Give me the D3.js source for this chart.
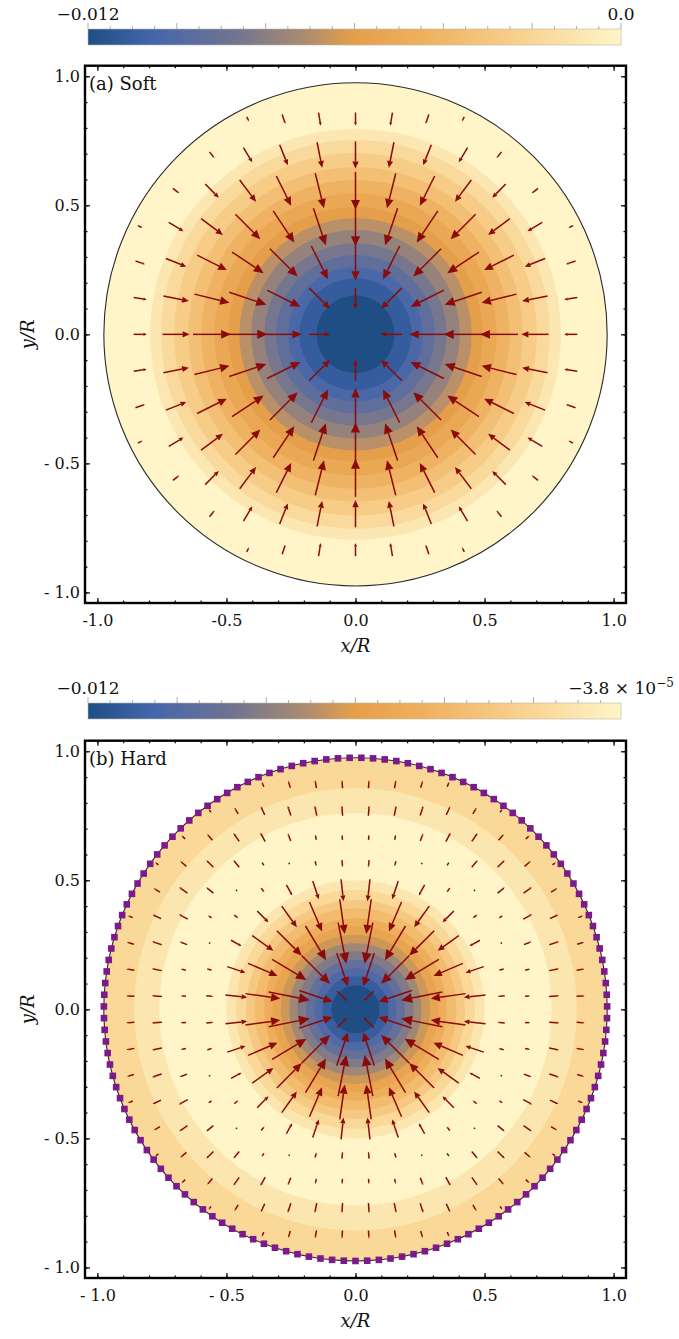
<!DOCTYPE html>
<html>
<head>
<style>
    body { margin: 0; background: #fff; }
    text { font-family: "DejaVu Serif", "Liberation Serif", "Times New Roman", serif; fill: #111; }
    .axis text { font-family: "DejaVu Serif", "Liberation Serif", "Times New Roman", serif; font-size: 16px; fill: #111; }
    .axis line { stroke: #000; stroke-width: 1.2; }
    .ax-label { font-size: 18px; font-style: italic; text-anchor: middle; }
    .panel-title { font-size: 18px; }
    .cbar-label { font-size: 17px; text-anchor: middle; }
</style>
<script src="https://cdn.jsdelivr.net/npm/d3@7"></script>
</head>
<body>
<div id="canvas"></div>
<script>

// colour bar ends
var cbarA = [-0.012, 0.0];
var cbarB = [-0.012, -0.000038];

// colour map (fraction of colour bar -> colour)
var cmapStops  = [0, 0.12, 0.27, 0.40, 0.50, 0.62, 0.80, 1];
var cmapColors = ["#1f4e85", "#4466ab", "#6f7392", "#a88a72", "#e59f4a", "#eeae5c", "#f8cf8a", "#fff5c8"];

// filled contour bands, centre outwards: outer radius (in R) and band value
var bandRadiiA  = [0.151, 0.217, 0.260, 0.307, 0.353, 0.404, 0.450, 0.493, 0.547, 0.598, 0.648, 0.703, 0.753, 0.796, 0.975];
var bandValuesA = [-0.01200, -0.01114, -0.01029, -0.00943, -0.00857, -0.00771, -0.00686, -0.00600,
                   -0.00514, -0.00429, -0.00343, -0.00257, -0.00171, -0.00086, 0.0];

var bandRadiiB  = [0.093, 0.128, 0.159, 0.192, 0.225, 0.256, 0.289, 0.322, 0.353, 0.391, 0.424, 0.463, 0.500, 0.760, 0.857, 0.975];
var bandValuesB = [-0.01200, -0.01108, -0.01016, -0.00924, -0.00832, -0.00740, -0.00648, -0.00556,
                   -0.00464, -0.00372, -0.00280, -0.00188, -0.00096, -0.000038, -0.00096, -0.00188];

// vector field, one quadrant: row j, column i; + points to the centre, - points out
var gridStepA = 0.139, gridOffsetA = 0;
var arrowMagA = [
    [0.00, 0.53, 0.90, 0.98, 0.95, 0.68, 0.33],
    [0.53, 0.73, 0.93, 0.98, 0.90, 0.65, 0.33],
    [0.90, 0.93, 0.98, 0.95, 0.83, 0.55, 0.25],
    [0.98, 0.98, 0.95, 0.88, 0.68, 0.43, 0.13],
    [0.95, 0.90, 0.83, 0.68, 0.48, 0.20],
    [0.68, 0.65, 0.55, 0.43, 0.20],
    [0.33, 0.33, 0.25, 0.13]
];

var gridStepB = 0.1026, gridOffsetB = 0.5;
var arrowMagB = [
    [0.35, 0.88, 1.05, 0.88, 0.55, 0.18, -0.13, -0.25, -0.20],
    [0.88, 1.00, 1.00, 0.80, 0.48, 0.13, -0.13, -0.25, -0.20],
    [1.05, 1.00, 0.88, 0.65, 0.30, 0.05, -0.20, -0.25, -0.18],
    [0.88, 0.80, 0.65, 0.40, 0.13, -0.10, -0.25, -0.23, -0.13],
    [0.55, 0.48, 0.30, 0.13, -0.05, -0.23, -0.25, -0.18],
    [0.18, 0.13, 0.05, -0.10, -0.23, -0.25, -0.20, -0.10],
    [-0.13, -0.13, -0.20, -0.25, -0.25, -0.20, -0.13],
    [-0.25, -0.25, -0.25, -0.23, -0.18, -0.10],
    [-0.20, -0.20, -0.18, -0.13]
];

var discRadius = 0.975;
var boundaryCount = 135;

var majorTicks = [-1.0, -0.5, 0.0, 0.5, 1.0];
var xTickLabelsA = ["-1.0", "-0.5", "0.0", "0.5", "1.0"];
var yTickLabelsA = ["- 1.0", "- 0.5", "0.0", "0.5", "1.0"];
var xTickLabelsB = ["- 1.0", "- 0.5", "0.0", "0.5", "1.0"];
var yTickLabelsB = ["- 1.0", "- 0.5", "0.0", "0.5", "1.0"];


var W = 679, H = 1339;
var frameL = 85, frameR = 626;
var arrowColor = "#8b0a0a";

var svg = d3.select("#canvas").append("svg")
            .attr("width", W).attr("height", H);
var defs = svg.append("defs");

var x = d3.scaleLinear().domain([-1.048, 1.048]).range([frameL, frameR]);
var lenScale = d3.scaleLinear().domain([0, 1]).range([0, 40]);


function colourScale(ends) {
    var lo = ends[0], hi = ends[1];
    return d3.scaleLinear()
             .domain(cmapStops.map(function(t) { return lo + t * (hi - lo); }))
             .range(cmapColors)
             .interpolate(d3.interpolateRgb);
}


function drawColourBar(id, ends, top, leftLabel, rightIsExp) {
    var col = colourScale(ends);
    var cb = d3.scaleLinear().domain(ends).range([88, 621]);

    var grad = defs.append("linearGradient").attr("id", id)
                   .attr("x1", "0%").attr("x2", "100%").attr("y1", "0%").attr("y2", "0%");
    d3.range(0, 41).forEach(function(k) {
        var t = k / 40;
        grad.append("stop").attr("offset", (t * 100) + "%")
            .attr("stop-color", col(ends[0] + t * (ends[1] - ends[0])));
    });

    var g = svg.append("g");
    g.append("rect").attr("x", cb.range()[0]).attr("y", top)
     .attr("width", cb.range()[1] - cb.range()[0]).attr("height", 16)
     .attr("fill", "url(#" + id + ")")
     .attr("stroke", "#b8b8a8").attr("stroke-width", 0.6);

    // small ticks above the bar
    cb.ticks(24).forEach(function(v) {
        var major = Math.abs(Math.round(v / 0.002) * 0.002 - v) < 1e-9;
        g.append("line").attr("x1", cb(v)).attr("x2", cb(v))
         .attr("y1", top).attr("y2", top - (major ? 6 : 3))
         .attr("stroke", "#999").attr("stroke-width", 0.8);
    });

    g.append("text").attr("class", "cbar-label")
     .attr("x", cb.range()[0]).attr("y", top - 9).text(leftLabel);

    var rt = g.append("text").attr("class", "cbar-label")
              .attr("x", cb.range()[1]).attr("y", top - 9);
    if (rightIsExp) {
        rt.append("tspan").text("\u22123.8 \u00d7 10");
        rt.append("tspan").attr("dy", -7).attr("font-size", "12px").text("\u22125");
    } else {
        rt.text("0.0");
    }
}


function drawPanel(opt) {
    var y = d3.scaleLinear().domain([-1.041, 1.041]).range([opt.bottom, opt.top]);
    var col = colourScale(opt.cbar);
    var g = svg.append("g");
    var cx = x(0), cy = y(0);

    // filled contour bands, outermost first
    var bands = opt.radii.map(function(r, i) { return {r: r, v: opt.values[i]}; }).reverse();
    g.selectAll("circle.band").data(bands).enter().append("circle")
     .attr("class", "band")
     .attr("cx", cx).attr("cy", cy)
     .attr("r", function(d) { return x(d.r) - x(0); })
     .attr("fill", function(d) { return col(d.v); });

    // vector field
    var arrows = [];
    opt.mags.forEach(function(row, j) {
        row.forEach(function(m, i) {
            if (!m) return;
            [-1, 1].forEach(function(sx) {
                [-1, 1].forEach(function(sy) {
                    var ox = i + opt.offset, oy = j + opt.offset;
                    if (ox === 0 && sx < 0) return;
                    if (oy === 0 && sy < 0) return;
                    arrows.push({dx: sx * ox * opt.step, dy: sy * oy * opt.step, m: m});
                });
            });
        });
    });

    var ag = g.append("g");
    arrows.forEach(function(a) {
        var px = x(a.dx), py = y(a.dy);
        var r = Math.sqrt(a.dx * a.dx + a.dy * a.dy);
        var L = lenScale(a.m);
        // inward unit vector in pixel space
        var ux = -a.dx / r, uy = a.dy / r;
        var s = L < 0 ? -1 : 1;
        var aL = Math.abs(L);
        var tipX = px + ux * L / 2, tipY = py + uy * L / 2;
        var tailX = px - ux * L / 2, tailY = py - uy * L / 2;
        var hl = 0.26 * aL, hw = 0.45 * hl;
        var bx = tipX - s * ux * hl, by = tipY - s * uy * hl;
        var nx = -uy, ny = ux;
        ag.append("line").attr("x1", tailX).attr("y1", tailY).attr("x2", bx).attr("y2", by)
          .attr("stroke", arrowColor).attr("stroke-width", 1.5);
        ag.append("path")
          .attr("d", "M" + tipX + "," + tipY +
                     "L" + (bx + nx * hw) + "," + (by + ny * hw) +
                     "L" + (bx - nx * hw) + "," + (by - ny * hw) + "Z")
          .attr("fill", arrowColor);
    });

    // disc outline
    g.append("circle").attr("cx", cx).attr("cy", cy)
     .attr("r", x(discRadius) - x(0))
     .attr("fill", "none").attr("stroke", "#2a2a2a").attr("stroke-width", 1.1);

    // boundary points of the hard wall
    if (opt.boundary) {
        var pts = d3.range(boundaryCount).map(function(k) {
            var th = -Math.PI / 2 + 2 * Math.PI * k / boundaryCount;
            return [discRadius * Math.cos(th), discRadius * Math.sin(th)];
        });
        g.selectAll("rect.bnd").data(pts).enter().append("rect")
         .attr("class", "bnd")
         .attr("x", function(d) { return x(d[0]) - 3.3; })
         .attr("y", function(d) { return y(d[1]) - 3.3; })
         .attr("width", 6.6).attr("height", 6.6)
         .attr("fill", "#7c1a8c");
    }

    // frame and ticks
    var minor = x.ticks(20);
    var ax = svg.append("g").attr("class", "axis");

    ax.append("g").attr("transform", "translate(0," + opt.bottom + ")")
      .call(d3.axisBottom(x).tickValues(majorTicks).tickSize(-5).tickPadding(12)
              .tickFormat(function(d, i) { return opt.xLabels[i]; }));
    ax.append("g").attr("transform", "translate(0," + opt.bottom + ")")
      .call(d3.axisBottom(x).tickValues(minor).tickSize(-2.5).tickFormat(""));
    ax.append("g").attr("transform", "translate(0," + opt.top + ")")
      .call(d3.axisTop(x).tickValues(majorTicks).tickSize(-5).tickFormat(""));
    ax.append("g").attr("transform", "translate(0," + opt.top + ")")
      .call(d3.axisTop(x).tickValues(minor).tickSize(-2.5).tickFormat(""));

    ax.append("g").attr("transform", "translate(" + frameL + ",0)")
      .call(d3.axisLeft(y).tickValues(majorTicks).tickSize(-5).tickPadding(5)
              .tickFormat(function(d, i) { return opt.yLabels[i]; }));
    ax.append("g").attr("transform", "translate(" + frameL + ",0)")
      .call(d3.axisLeft(y).tickValues(minor).tickSize(-2.5).tickFormat(""));
    ax.append("g").attr("transform", "translate(" + frameR + ",0)")
      .call(d3.axisRight(y).tickValues(majorTicks).tickSize(-5).tickFormat(""));
    ax.append("g").attr("transform", "translate(" + frameR + ",0)")
      .call(d3.axisRight(y).tickValues(minor).tickSize(-2.5).tickFormat(""));
    ax.selectAll(".domain").remove();

    svg.append("rect").attr("x", frameL).attr("y", opt.top)
       .attr("width", frameR - frameL).attr("height", opt.bottom - opt.top)
       .attr("fill", "none").attr("stroke", "#000").attr("stroke-width", 2.4);

    // labels
    svg.append("text").attr("class", "panel-title")
       .attr("x", frameL + 4).attr("y", opt.top + 24).text(opt.title);

    svg.append("text").attr("class", "ax-label")
       .attr("x", x(0)).attr("y", opt.bottom + 49).text("x/R");

    svg.append("text").attr("class", "ax-label")
       .attr("transform", "translate(34," + cy + ") rotate(-90)").text("y/R");
}


drawColourBar("gradA", cbarA, 29, "\u22120.012", false);
drawPanel({top: 65.7, bottom: 603, cbar: cbarA, radii: bandRadiiA, values: bandValuesA,
           mags: arrowMagA, step: gridStepA, offset: gridOffsetA, boundary: false,
           xLabels: xTickLabelsA, yLabels: yTickLabelsA, title: "(a) Soft"});

drawColourBar("gradB", cbarB, 703, "\u22120.012", true);
drawPanel({top: 740.7, bottom: 1278, cbar: cbarB, radii: bandRadiiB, values: bandValuesB,
           mags: arrowMagB, step: gridStepB, offset: gridOffsetB, boundary: true,
           xLabels: xTickLabelsB, yLabels: yTickLabelsB, title: "(b) Hard"});

</script>
</body>
</html>
